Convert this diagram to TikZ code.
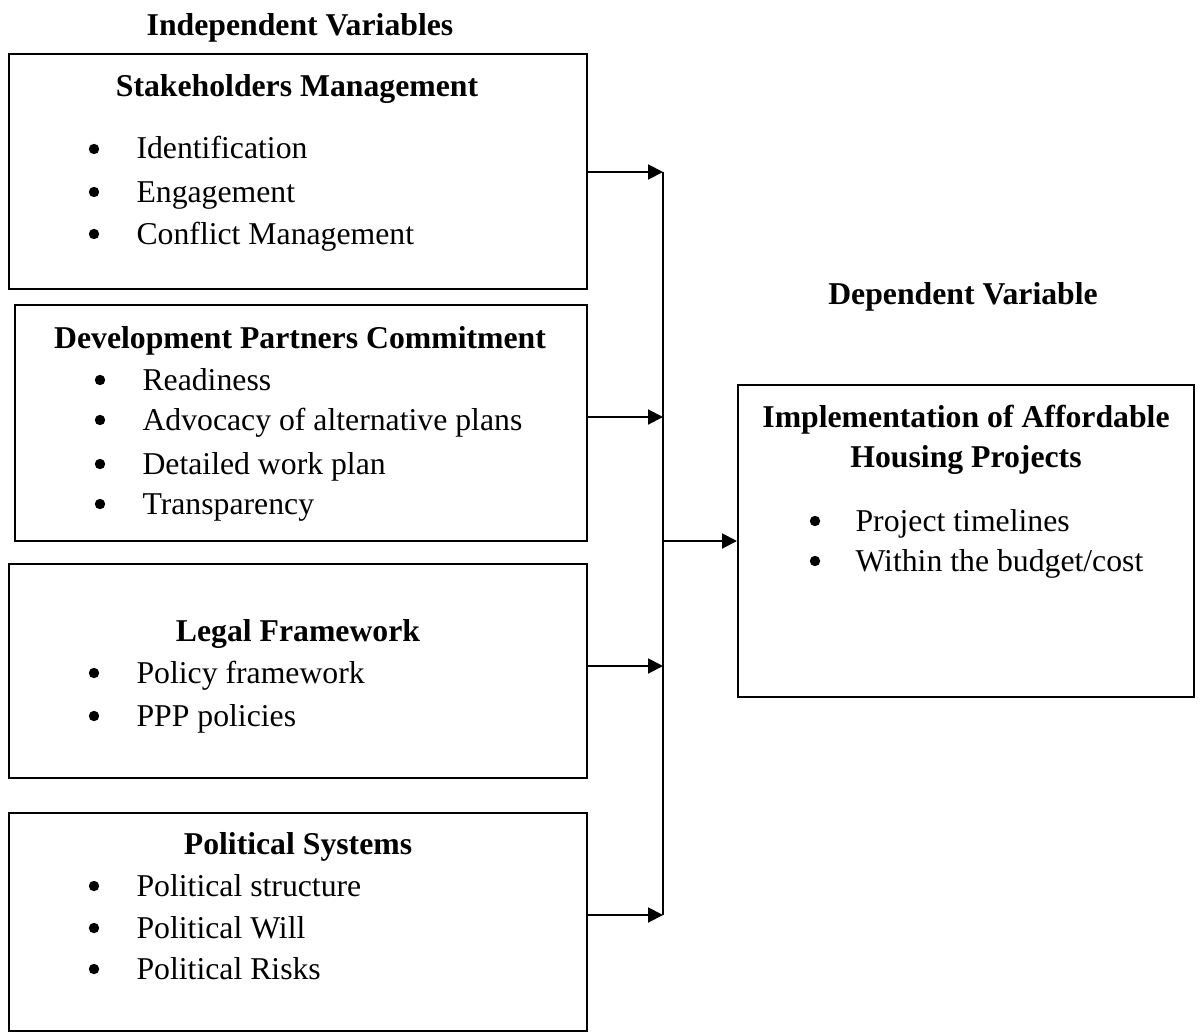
\documentclass[tikz,border=0pt]{standalone}
\usepackage{fontspec}
\setmainfont{Liberation Serif}
\usetikzlibrary{arrows.meta,fit}
\begin{document}
\begin{tikzpicture}[x=0.375pt,y=-0.375pt,
  font=\fontsize{11.9}{15}\selectfont,
  box/.style={draw, line width=0.75pt, inner sep=0pt},
  head/.style={font=\fontsize{11.9}{15}\selectfont\bfseries, inner sep=0pt, align=center},
  itm/.style={anchor=base west, inner sep=0pt},
  bul/.style={circle, fill, inner sep=0pt, minimum size=3.9pt},
  link/.style={line width=0.75pt, -{Triangle[length=5.6pt,width=5.6pt]}},
  bus/.style={line width=0.4pt}]
\useasboundingbox (0,0) rectangle (1198,1034);

% column titles
\node[head] (indep) at (300,28) {Independent Variables};
\node[head] (dep) at (963,297) {Dependent Variable};

% independent variable boxes
\node[box, fit={(9,54) (587,289)}] (b1) {};
\node[box, fit={(15,305) (587,541)}] (b2) {};
\node[box, fit={(9,564) (587,778)}] (b3) {};
\node[box, fit={(9,813) (587,1031)}] (b4) {};

% dependent variable box
\node[box, fit={(738,385) (1194,697)}] (dv) {};

% box headings
\node[head] (h1) at (297,89) {Stakeholders Management};
\node[head] (h2) at (300,341) {Development Partners Commitment};
\node[head] (h3) at (298,634) {Legal Framework};
\node[head] (h4) at (298,847) {Political Systems};
\node[head] (hd) at (966,440) {Implementation of Affordable\\Housing Projects};

% bullet lists (y = middle of the capitals)
\foreach \y/\t [count=\i] in {148/Identification, 191/Engagement, 233/{Conflict Management}}{
  \node[bul] (p1\i) at (94,\y+1) {};
  \node[itm] (s1\i) at (136,\y+11) {\t};
}
\foreach \y/\t [count=\i] in {379/Readiness, 419/{Advocacy of alternative plans}, 463/{Detailed work plan}, 503/Transparency}{
  \node[bul] (p2\i) at (100,\y+1) {};
  \node[itm] (s2\i) at (142,\y+11) {\t};
}
\foreach \y/\t [count=\i] in {672/{Policy framework}, 715/{PPP policies}}{
  \node[bul] (p3\i) at (94,\y+1) {};
  \node[itm] (s3\i) at (136,\y+11) {\t};
}
\foreach \y/\t [count=\i] in {885/{Political structure}, 927/{Political Will}, 968/{Political Risks}}{
  \node[bul] (p4\i) at (94,\y+1) {};
  \node[itm] (s4\i) at (136,\y+11) {\t};
}
\foreach \y/\t [count=\i] in {520/{Project timelines}, 560/{Within the budget/cost}}{
  \node[bul] (pd\i) at (815,\y+1) {};
  \node[itm] (sd\i) at (855,\y+11) {\t};
}

% junction points on the collecting line
\coordinate (j1) at (663,172);
\coordinate (j2) at (663,417);
\coordinate (j3) at (663,666);
\coordinate (j4) at (663,915);
\coordinate (jo) at (663,541);

% connectors
\draw[bus] (j1) -- (j4);
\draw[link] (b1.east |- j1) -- (j1);
\draw[link] (b2.east |- j2) -- (j2);
\draw[link] (b3.east |- j3) -- (j3);
\draw[link] (b4.east |- j4) -- (j4);
\draw[link] (jo) -- (dv.west |- jo);
\end{tikzpicture}
\end{document}
